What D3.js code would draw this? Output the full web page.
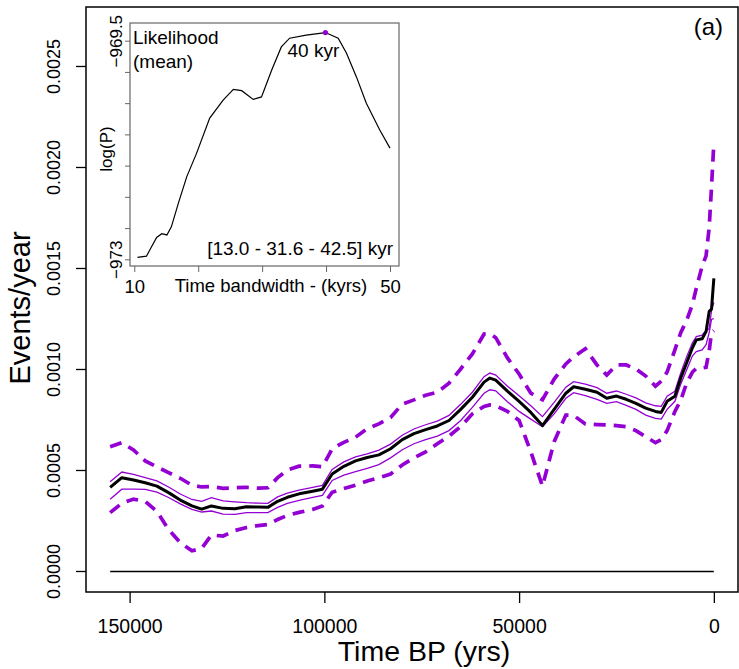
<!DOCTYPE html>
<html lang="en">
<head>
    <meta charset="UTF-8">
    <title>Events per year through time</title>
    <script src="https://cdn.jsdelivr.net/npm/d3@7"></script>
    <style>
        body { margin: 0; background: #fff; }
        svg { display: block; font-family: "Liberation Sans", Arial, sans-serif; }
        .band { fill: none; stroke: #9400d3; }
        .dashed { stroke-width: 3.7; stroke-dasharray: 12 8; }
        .thin { stroke-width: 1.3; }
    </style>
</head>
<body>
    <svg width="739" height="669"></svg>
    <script>
        // ---- data ----
        const years = [155000, 152000, 149000, 146000, 143000, 140000, 137000, 134000, 131500, 129000,
            126000, 123000, 120000, 117000, 114500, 112000, 109500, 106500, 103000, 100500,
            98000, 95000, 92000, 89000, 86000, 83000, 80000, 77000, 74000, 71000,
            68000, 65000, 62000, 59000, 57500, 56000, 53000, 50000, 47000, 44000,
            41000, 38000, 36000, 33000, 30000, 27500, 25000, 22500, 20000, 17500,
            15000, 13500, 12000, 10000, 8500, 7000, 5500, 4500, 3000, 2000,
            1200, 600, 0];

        const rateMean = [0.000414, 0.000462, 0.000450, 0.000437, 0.000420, 0.000388, 0.000351, 0.000322, 0.000306, 0.000322,
            0.000310, 0.000308, 0.000318, 0.000317, 0.000315, 0.000345, 0.000365, 0.000382, 0.000395, 0.000405,
            0.000480, 0.000518, 0.000545, 0.000562, 0.000575, 0.000605, 0.000650, 0.000680, 0.000700, 0.000718,
            0.000745, 0.000800, 0.000860, 0.000935, 0.000955, 0.000945, 0.000890, 0.000840, 0.000785, 0.000720,
            0.000800, 0.000880, 0.000912, 0.000900, 0.000885, 0.000855, 0.000866, 0.000850, 0.000830, 0.000806,
            0.000790, 0.000785, 0.000840, 0.000865, 0.000955, 0.001030, 0.001105, 0.001144, 0.001150, 0.001185,
            0.001285, 0.001296, 0.001449];

        const rateUpper = [0.000442, 0.000490, 0.000478, 0.000462, 0.000446, 0.000416, 0.000381, 0.000354, 0.000345, 0.000363,
            0.000347, 0.000342, 0.000338, 0.000336, 0.000335, 0.000367, 0.000385, 0.000400, 0.000414, 0.000424,
            0.000503, 0.000540, 0.000565, 0.000580, 0.000598, 0.000628, 0.000672, 0.000703, 0.000724, 0.000742,
            0.000770, 0.000825, 0.000885, 0.000962, 0.000980, 0.000970, 0.000915, 0.000868, 0.000818, 0.000764,
            0.000835, 0.000910, 0.000937, 0.000925, 0.000908, 0.000880, 0.000891, 0.000875, 0.000857, 0.000832,
            0.000818, 0.000815, 0.000865, 0.000890, 0.000980, 0.001060, 0.001130, 0.001160, 0.001168, 0.001190,
            0.001200, 0.001290, 0.001330];

        const rateLower = [0.000355, 0.000405, 0.000405, 0.000404, 0.000390, 0.000364, 0.000332, 0.000305, 0.000292, 0.000297,
            0.000282, 0.000280, 0.000289, 0.000289, 0.000289, 0.000315, 0.000335, 0.000350, 0.000364, 0.000374,
            0.000448, 0.000475, 0.000492, 0.000508, 0.000527, 0.000560, 0.000600, 0.000630, 0.000650, 0.000668,
            0.000695, 0.000745, 0.000810, 0.000880, 0.000897, 0.000892, 0.000838, 0.000790, 0.000752, 0.000714,
            0.000778, 0.000855, 0.000883, 0.000868, 0.000850, 0.000830, 0.000838, 0.000820, 0.000800, 0.000772,
            0.000755, 0.000752, 0.000800, 0.000840, 0.000925, 0.000995, 0.001065, 0.001086, 0.001094, 0.001120,
            0.001180, 0.001245, 0.001250];

        const rateHi = [0.000615, 0.000635, 0.000599, 0.000545, 0.000515, 0.000487, 0.000459, 0.000425, 0.000416, 0.000418,
            0.000409, 0.000412, 0.000414, 0.000410, 0.000412, 0.000462, 0.000500, 0.000519, 0.000520, 0.000516,
            0.000605, 0.000637, 0.000662, 0.000705, 0.000728, 0.000760, 0.000826, 0.000847, 0.000870, 0.000885,
            0.000930, 0.001000, 0.001075, 0.001173, 0.001175, 0.001155, 0.001055, 0.000975, 0.000880, 0.000848,
            0.000950, 0.001025, 0.001060, 0.001100, 0.001020, 0.000970, 0.001020, 0.001020, 0.001000, 0.000965,
            0.000915, 0.000940, 0.000985, 0.001095, 0.001180, 0.001240, 0.001320, 0.001400, 0.001510, 0.001560,
            0.001700, 0.001900, 0.002120];

        const rateLo = [0.000289, 0.000335, 0.000356, 0.000345, 0.000295, 0.000205, 0.000140, 0.000100, 0.000112, 0.000178,
            0.000173, 0.000200, 0.000215, 0.000225, 0.000230, 0.000255, 0.000275, 0.000290, 0.000305, 0.000322,
            0.000390, 0.000408, 0.000425, 0.000445, 0.000462, 0.000480, 0.000525, 0.000560, 0.000590, 0.000630,
            0.000668, 0.000715, 0.000778, 0.000815, 0.000822, 0.000818, 0.000790, 0.000745, 0.000590, 0.000420,
            0.000640, 0.000772, 0.000770, 0.000728, 0.000725, 0.000723, 0.000720, 0.000714, 0.000695, 0.000665,
            0.000635, 0.000650, 0.000695, 0.000790, 0.000845, 0.000930, 0.000985, 0.001003, 0.001005, 0.001008,
            0.001090, 0.001180, 0.001190];

        const xTicks = [150000, 100000, 50000, 0];
        const yTicks = [0, 0.0005, 0.0010, 0.0015, 0.0020, 0.0025];

        // inset: likelihood against time bandwidth
        const bandwidth = [10.5, 11.9, 12.7, 13.5, 14.3, 15.1, 15.8, 16.9, 18.2, 19.75,
            21.8, 23.9, 25.5, 26.8, 28.6, 29.9, 31.5, 33.0, 34.3, 36.9,
            39.9, 41.9, 43.2, 44.75, 46.3, 48.4, 50];
        const logLik = [-972.97, -972.95, -972.8, -972.65, -972.59, -972.61, -972.48, -972.1, -971.68, -971.3,
            -970.74, -970.45, -970.28, -970.3, -970.44, -970.4, -969.97, -969.6, -969.46, -969.41,
            -969.37, -969.46, -969.7, -970.08, -970.5, -970.93, -971.22];
        const insetXTicks = [10, 20, 30, 40, 50];
        const insetYTicks = [-969.5, -970, -970.5, -971, -971.5, -972, -972.5, -973];
        const insetXLabels = {10: "10", 50: "50"};
        const insetYLabels = {"-969.5": "\u2212969.5", "-973": "\u2212973"};
        const bestBandwidth = 40;

        // ---- main plot ----
        const svg = d3.select("svg");
        const box = {left: 86, top: 7, right: 738, bottom: 592};

        const x = d3.scaleLinear().domain([161200, -6200]).range([box.left, box.right]);
        const y = d3.scaleLinear().domain([-0.000104, 0.002792]).range([box.bottom, box.top]);

        const line = vals => d3.line()
            .x((d, i) => x(years[i]))
            .y(d => y(d))(vals);

        // zero reference line over the data range
        svg.append("line")
            .attr("x1", x(d3.max(years))).attr("x2", x(d3.min(years)))
            .attr("y1", Math.round(y(0)) + 0.5).attr("y2", Math.round(y(0)) + 0.5)
            .attr("stroke", "#000").attr("stroke-width", 1.3);

        svg.append("path").attr("class", "band dashed").attr("d", line(rateHi));
        svg.append("path").attr("class", "band dashed").attr("d", line(rateLo));
        svg.append("path").attr("class", "band thin").attr("d", line(rateUpper));
        svg.append("path").attr("class", "band thin").attr("d", line(rateLower));
        svg.append("path").attr("d", line(rateMean))
            .attr("fill", "none").attr("stroke", "#000").attr("stroke-width", 3)
            .attr("stroke-linejoin", "round");

        // frame
        svg.append("rect")
            .attr("x", box.left).attr("y", box.top)
            .attr("width", box.right - box.left).attr("height", box.bottom - box.top)
            .attr("fill", "none").attr("stroke", "#000").attr("stroke-width", 1.5);

        // axes
        const xAxis = svg.append("g")
            .attr("transform", `translate(0,${box.bottom})`)
            .call(d3.axisBottom(x).tickValues(xTicks).tickFormat(d3.format("d")).tickSize(11).tickPadding(16));
        xAxis.select(".domain").remove();
        xAxis.selectAll("line").attr("stroke", "#000").attr("stroke-width", 1.3);
        xAxis.selectAll("text").attr("font-size", 19.5).attr("fill", "#000")
            .attr("font-family", "Liberation Sans, Arial, sans-serif");

        const yAxis = svg.append("g")
            .attr("transform", `translate(${box.left},0)`)
            .call(d3.axisLeft(y).tickValues(yTicks).tickFormat(d3.format(".4f")).tickSize(10));
        yAxis.select(".domain").remove();
        yAxis.selectAll("line").attr("stroke", "#000").attr("stroke-width", 1.3);
        yAxis.selectAll("text")
            .attr("font-size", 18).attr("fill", "#000")
            .attr("font-family", "Liberation Sans, Arial, sans-serif")
            .attr("text-anchor", "middle")
            .attr("x", 0).attr("dy", 0)
            .attr("transform", d => `translate(-26,0) rotate(-90)`);

        svg.append("text")
            .attr("x", 424).attr("y", 661)
            .attr("text-anchor", "middle").attr("font-size", 28.5)
            .text("Time BP (yrs)");

        svg.append("text")
            .attr("transform", "translate(30,308) rotate(-90)")
            .attr("text-anchor", "middle").attr("font-size", 29)
            .text("Events/year");

        svg.append("text")
            .attr("x", 723).attr("y", 35)
            .attr("text-anchor", "end").attr("font-size", 24)
            .text("(a)");

        // ---- inset ----
        const ib = {left: 130, top: 23, right: 399, bottom: 266};
        const ix = d3.scaleLinear().domain([9.33, 51.41]).range([ib.left, ib.right]);
        const iy = d3.scaleLinear().domain([-973.107, -969.217]).range([ib.bottom, ib.top]);
        const inset = svg.append("g");

        inset.append("rect")
            .attr("x", ib.left).attr("y", ib.top)
            .attr("width", ib.right - ib.left).attr("height", ib.bottom - ib.top)
            .attr("fill", "#fff").attr("stroke", "#666").attr("stroke-width", 1.2);

        const ixAxis = inset.append("g")
            .attr("transform", `translate(0,${ib.bottom})`)
            .call(d3.axisBottom(ix).tickValues(insetXTicks).tickFormat(d => insetXLabels[d] || "").tickSize(6).tickPadding(8));
        ixAxis.select(".domain").remove();
        ixAxis.selectAll("line").attr("stroke", "#666");
        ixAxis.selectAll("text").attr("font-size", 18.5).attr("fill", "#000")
            .attr("font-family", "Liberation Sans, Arial, sans-serif");

        const iyAxis = inset.append("g")
            .attr("transform", `translate(${ib.left},0)`)
            .call(d3.axisLeft(iy).tickValues(insetYTicks).tickFormat(d => insetYLabels[String(d)] || "").tickSize(5));
        iyAxis.select(".domain").remove();
        iyAxis.selectAll("line").attr("stroke", "#666");
        iyAxis.selectAll("text")
            .attr("font-size", 17).attr("fill", "#000")
            .attr("font-family", "Liberation Sans, Arial, sans-serif")
            .attr("text-anchor", "middle")
            .attr("x", 0).attr("dy", 0)
            .attr("transform", "translate(-8,0) rotate(-90)");

        inset.append("path")
            .attr("d", d3.line().x((d, i) => ix(bandwidth[i])).y(d => iy(d))(logLik))
            .attr("fill", "none").attr("stroke", "#000").attr("stroke-width", 1.2);

        const best = bandwidth.indexOf(d3.least(bandwidth, b => Math.abs(b - bestBandwidth)));
        inset.append("circle")
            .attr("cx", ix(bandwidth[best])).attr("cy", iy(logLik[best]))
            .attr("r", 2.6).attr("fill", "#9400d3");

        inset.append("text").attr("x", ix(bandwidth[best]) - 12).attr("y", 57)
            .attr("text-anchor", "middle").attr("font-size", 19).text("40 kyr");
        inset.append("text").attr("x", 133).attr("y", 44)
            .attr("font-size", 19).text("Likelihood");
        inset.append("text").attr("x", 133).attr("y", 68)
            .attr("font-size", 19).text("(mean)");
        inset.append("text").attr("x", 393).attr("y", 255)
            .attr("text-anchor", "end").attr("font-size", 19).text("[13.0 - 31.6 - 42.5] kyr");
        inset.append("text").attr("x", 271).attr("y", 292)
            .attr("text-anchor", "middle").attr("font-size", 18.5).text("Time bandwidth - (kyrs)");
        inset.append("text")
            .attr("transform", "translate(112,149) rotate(-90)")
            .attr("text-anchor", "middle").attr("font-size", 17).text("log(P)");
    </script>
</body>
</html>
